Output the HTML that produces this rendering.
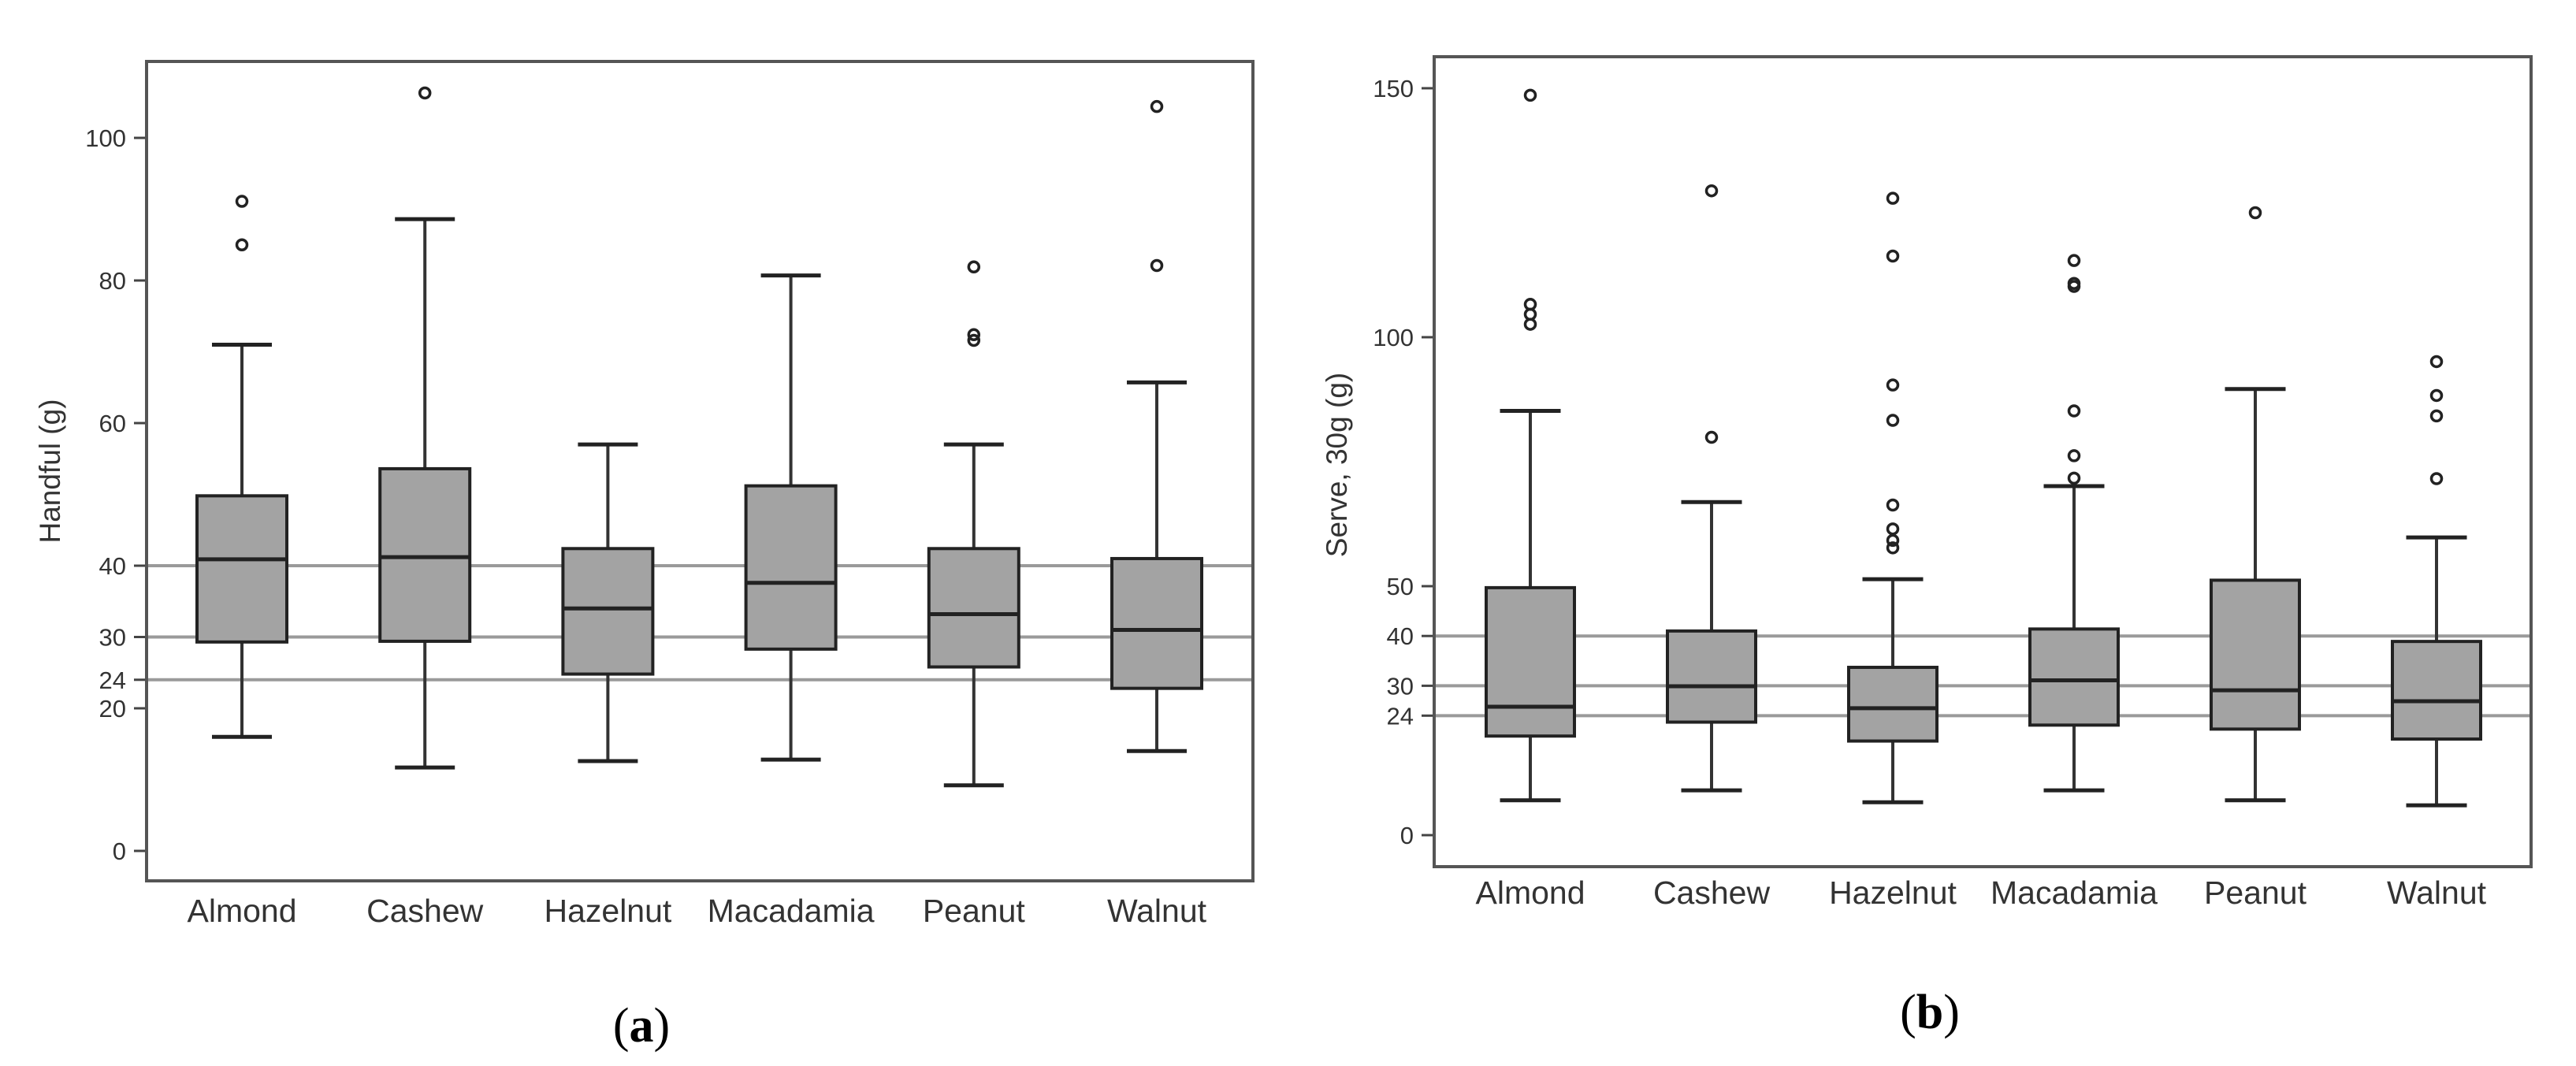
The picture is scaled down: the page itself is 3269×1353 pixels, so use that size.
<!DOCTYPE html>
<html><head><meta charset="utf-8"><style>
html,body{margin:0;padding:0;background:#fff;}
svg{display:block;font-family:"Liberation Sans",Arial,sans-serif;}
</style></head><body>
<svg id="chart" width="3269" height="1353" viewBox="0 0 3269 1353">
<g id="pa"></g>
<g id="pb"></g>
<text x="814" y="1322" font-family="Liberation Serif,serif" font-size="62" text-anchor="middle">(<tspan font-weight="bold">a</tspan>)</text>
<text x="2449" y="1305" font-family="Liberation Serif,serif" font-size="62" text-anchor="middle">(<tspan font-weight="bold">b</tspan>)</text>
</svg>
<script>
const categories=["Almond","Cashew","Hazelnut","Macadamia","Peanut","Walnut"];
const refLines=[40,30,24];
// panel a
const aTicks=[0,20,24,30,40,60,80,100];
const aLow=[16.0,11.7,12.6,12.8,9.2,14.0];
const aQ1=[29.3,29.4,24.8,28.3,25.8,22.8];
const aMed=[40.9,41.2,34.0,37.6,33.2,31.0];
const aQ3=[49.8,53.6,42.4,51.2,42.4,41.0];
const aHigh=[71.0,88.6,57.0,80.7,57.0,65.7];
const aOut=[[91.1,85.0],[106.3],[],[],[81.9,72.4,71.6],[104.4,82.1]];
// panel b
const bTicks=[0,24,30,40,50,100,150];
const bLow=[7.0,9.0,6.6,9.0,7.0,6.0];
const bQ1=[19.9,22.7,18.9,22.1,21.3,19.3];
const bMed=[25.8,29.9,25.5,31.1,29.1,26.9];
const bQ3=[49.7,41.0,33.7,41.4,51.2,38.9];
const bHigh=[85.2,66.9,51.4,70.1,89.6,59.8];
const bOut=[[148.6,106.6,104.6,102.6],[129.4,79.9],[127.9,116.3,90.4,83.3,66.3,61.5,59.2,57.7],[115.4,110.8,110.2,85.2,76.2,71.7],[125.0],[95.1,88.3,84.2,71.6]];

const NS="http://www.w3.org/2000/svg";
function mk(p,t,at){const e=document.createElementNS(NS,t);for(const k in at)e.setAttribute(k,at[k]);p.appendChild(e);return e;}

function panel(g,o){
  const {x0,x1,y0,y1,v0y,pxu,c0,dc,bw,cw,title,tx,ty,ticks,low,q1,med,q3,high,out,lab}=o;
  const Y=v=>v0y-v*pxu;
  const X=i=>c0+i*dc;
  refLines.forEach(v=>{
    const l=mk(g,"line",{x1:x0,x2:x1,y1:Y(v),y2:Y(v),stroke:"#9a9a9a","stroke-width":4});
    
    
  });
  categories.forEach((c,i)=>{
    const x=X(i);
    const wg=mk(g,"g",{});
    
    
    mk(wg,"line",{x1:x,x2:x,y1:Y(high[i]),y2:Y(q3[i]),stroke:"#333","stroke-width":4});
    mk(wg,"line",{x1:x,x2:x,y1:Y(q1[i]),y2:Y(low[i]),stroke:"#333","stroke-width":4});
    mk(wg,"line",{x1:x-cw/2,x2:x+cw/2,y1:Y(high[i]),y2:Y(high[i]),stroke:"#222","stroke-width":5});
    mk(wg,"line",{x1:x-cw/2,x2:x+cw/2,y1:Y(low[i]),y2:Y(low[i]),stroke:"#222","stroke-width":5});
    mk(wg,"rect",{x:x-bw/2,y:Y(q3[i]),width:bw,height:Y(q1[i])-Y(q3[i]),fill:"#a3a3a3",stroke:"#222","stroke-width":4});
    mk(wg,"line",{x1:x-bw/2,x2:x+bw/2,y1:Y(med[i]),y2:Y(med[i]),stroke:"#222","stroke-width":5});
    out[i].forEach(v=>{
      const ci=mk(g,"circle",{cx:x,cy:Y(v),r:6.5,fill:"none",stroke:"#222","stroke-width":3.5});
      
      
    });
    const t=mk(g,"text",{x:x,y:lab,"font-size":41,"text-anchor":"middle",fill:"#333"});
    t.textContent=c;
    
    
  });
  ticks.forEach(v=>{
    mk(g,"line",{x1:x0-16,x2:x0,y1:Y(v),y2:Y(v),stroke:"#444","stroke-width":3});
    const t=mk(g,"text",{x:x0-26,y:Y(v)+11,"font-size":31,"text-anchor":"end",fill:"#333"});
    t.textContent=v;
    
    
  });
  const fr=mk(g,"rect",{x:x0,y:y0,width:x1-x0,height:y1-y0,fill:"none",stroke:"#555","stroke-width":4});
  
  
  const tt=mk(g,"text",{x:tx,y:ty,"font-size":37,"text-anchor":"middle",fill:"#333",transform:`rotate(-90 ${tx} ${ty})`});
  tt.textContent=title;
  
  
}
panel(document.getElementById("pa"),{x0:186,x1:1590,y0:78,y1:1118,v0y:1080,pxu:9.05,c0:307,dc:232.2,bw:114,cw:76,
  title:"Handful (g)",tx:76,ty:598,ticks:aTicks,low:aLow,q1:aQ1,med:aMed,q3:aQ3,high:aHigh,out:aOut,lab:1170});
panel(document.getElementById("pb"),{x0:1820,x1:3212,y0:72,y1:1100,v0y:1060,pxu:6.32,c0:1942,dc:230,bw:112,cw:77,
  title:"Serve, 30g (g)",tx:1709,ty:590,ticks:bTicks,low:bLow,q1:bQ1,med:bMed,q3:bQ3,high:bHigh,out:bOut,lab:1147});
</script>
</body></html>
